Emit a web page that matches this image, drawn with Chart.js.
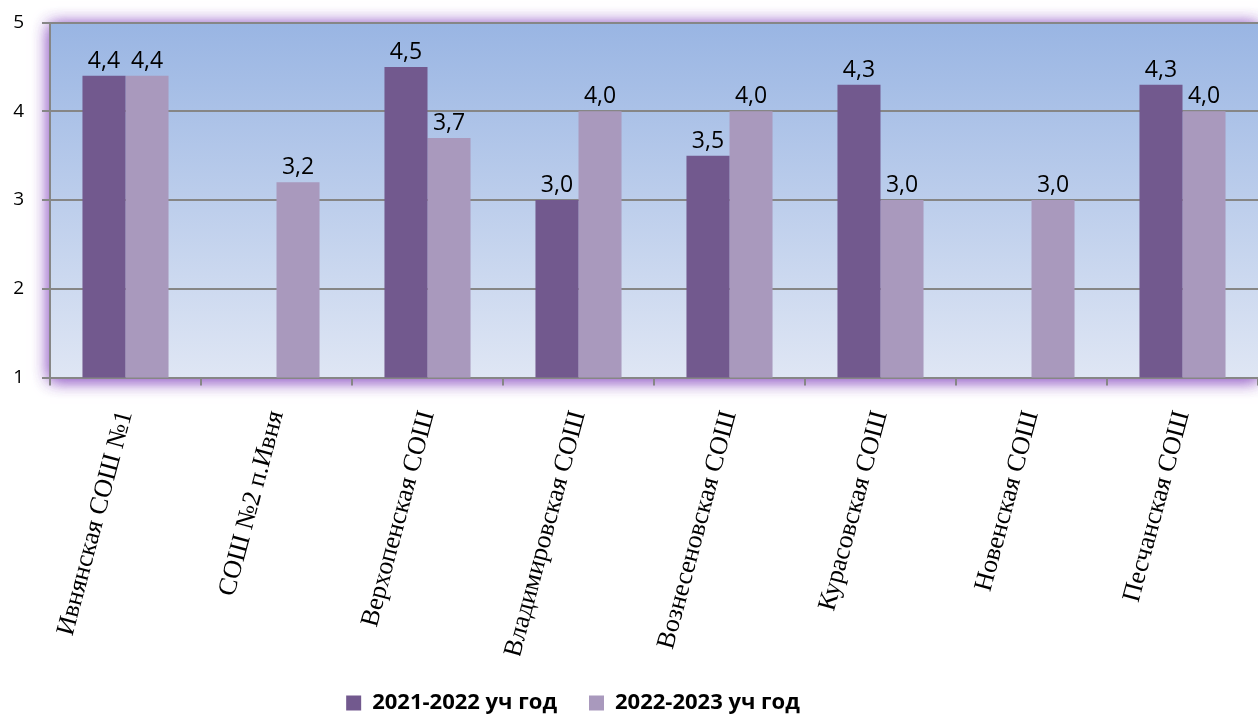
<!DOCTYPE html>
<html>
<head>
<meta charset="utf-8">
<script src="https://cdn.jsdelivr.net/npm/chart.js@4.4.0/dist/chart.umd.min.js"></script>
<style>
  html, body { margin: 0; padding: 0; background: #ffffff; }
  #wrap { width: 1258px; height: 720px; }
</style>
</head>
<body>
<div id="wrap"><canvas id="myChart" width="1258" height="720"></canvas></div>
<script>
const schools = [
  'Ивнянская СОШ №1',
  'СОШ №2 п.Ивня',
  'Верхопенская СОШ',
  'Владимировская СОШ',
  'Вознесеновская СОШ',
  'Курасовская СОШ',
  'Новенская СОШ',
  'Песчанская СОШ'
];
const year2122 = [4.4, null, 4.5, 3.0, 3.5, 4.3, null, 4.3];
const year2223 = [4.4, 3.2, 3.7, 4.0, 4.0, 3.0, 3.0, 4.0];
const seriesNames = ['2021-2022 уч год', '2022-2023 уч год'];
const yTicks = [1, 2, 3, 4, 5];

// узкий жирный шрифт для легенды, если он есть
function hasFont(name) {
  const c = document.createElement('canvas').getContext('2d');
  c.font = 'bold 40px monospace';
  const w0 = c.measureText('2021-2022 уч год').width;
  c.font = 'bold 40px "' + name + '", monospace';
  return c.measureText('2021-2022 уч год').width !== w0;
}
const narrow = hasFont('Liberation Sans Narrow');
const legendFont = narrow
  ? { family: '"Liberation Sans Narrow", sans-serif', size: 27, weight: 'bold' }
  : { family: '"Open Sans", sans-serif', size: 22, weight: 'bold' };

// фон области построения: голубой градиент с фиолетовым свечением
const plotBackground = {
  id: 'plotBackground',
  beforeDraw(chart) {
    const { ctx, chartArea: a } = chart;
    ctx.save();
    ctx.shadowColor = 'rgba(150, 95, 200, 0.9)';
    ctx.shadowBlur = 16;
    ctx.shadowOffsetY = 2;
    ctx.fillStyle = '#c4b0dc';
    ctx.fillRect(a.left, a.top, a.right - a.left, a.bottom - a.top);
    ctx.fillRect(a.left, a.top, a.right - a.left, a.bottom - a.top);
    ctx.restore();
    ctx.save();
    const g = ctx.createLinearGradient(0, a.top, 0, a.bottom);
    g.addColorStop(0, '#99b5e3');
    g.addColorStop(1, '#dfe6f4');
    ctx.fillStyle = g;
    ctx.fillRect(a.left, a.top, a.right - a.left, a.bottom - a.top);
    ctx.restore();
  }
};

// подписи значений над столбцами
const valueLabels = {
  id: 'valueLabels',
  afterDatasetsDraw(chart) {
    const { ctx } = chart;
    ctx.save();
    ctx.font = '23px "Open Sans", sans-serif';
    ctx.fillStyle = '#000000';
    ctx.textAlign = 'center';
    ctx.textBaseline = 'alphabetic';
    chart.data.datasets.forEach((ds, i) => {
      chart.getDatasetMeta(i).data.forEach((bar, j) => {
        const v = ds.data[j];
        if (v === null) return;
        ctx.fillText(v.toFixed(1).replace('.', ','), bar.x, bar.y - 8);
      });
    });
    ctx.restore();
  }
};

// легенда в оригинале сдвинута влево и чуть ниже
const legendShift = {
  id: 'legendShift',
  afterLayout(chart) {
    const lg = chart.legend;
    lg.left -= 58;
    lg.right -= 58;
    lg.top += 4;
    lg.bottom += 4;
  }
};

const ctx = document.getElementById('myChart');
new Chart(ctx, {
  type: 'bar',
  data: {
    labels: schools,
    datasets: [
      { label: seriesNames[0], data: year2122, backgroundColor: '#72598e' },
      { label: seriesNames[1], data: year2223, backgroundColor: '#a999bd' }
    ]
  },
  options: {
    responsive: false,
    animation: false,
    categoryPercentage: 0.57,
    barPercentage: 1.0,
    layout: { padding: { top: 22.5, right: -4, left: 0, bottom: 0 } },
    plugins: {
      tooltip: { enabled: false },
      legend: {
        position: 'bottom',
        labels: {
          boxWidth: 15,
          boxHeight: 15,
          padding: 32,
          color: '#000000',
          font: legendFont
        }
      }
    },
    scales: {
      x: {
        grid: { drawOnChartArea: false, drawTicks: true, tickLength: 8, color: '#868686', lineWidth: 2 },
        border: { display: true, color: '#868686', width: 2 },
        ticks: {
          autoSkip: false,
          minRotation: 75,
          maxRotation: 75,
          padding: 22,
          color: '#000000',
          font: { family: '"Liberation Serif", serif', size: 26 }
        },
        afterFit(scale) { scale.height = 278.5; }
      },
      y: {
        min: 1,
        max: 5,
        afterBuildTicks(scale) { scale.ticks = yTicks.map(v => ({ value: v })); },
        grid: { color: '#868686', lineWidth: 2, tickLength: 8 },
        border: { display: true, color: '#868686', width: 2 },
        ticks: {
          padding: 18,
          color: '#000000',
          font: { family: '"Open Sans", sans-serif', size: 19 }
        },
        afterFit(scale) {
          scale.width = 50;
          scale.paddingTop = 0;
          scale.paddingBottom = 0;
        }
      }
    }
  },
  plugins: [plotBackground, valueLabels, legendShift]
});
</script>
</body>
</html>
